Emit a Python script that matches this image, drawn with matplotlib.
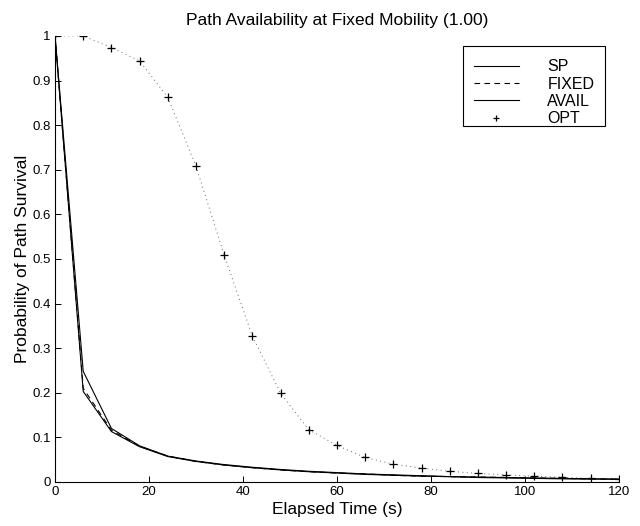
import matplotlib
matplotlib.use("Agg")
import matplotlib.pyplot as plt
from matplotlib.patches import Rectangle

plt.rcParams["font.family"] = ["Liberation Sans", "DejaVu Sans"]

# elapsed time samples (s)
t = [0, 6, 12, 18, 24, 30, 36, 42, 48, 54, 60, 66, 72, 78, 84, 90, 96, 102, 108, 114, 120]

sp = [1.0, 0.248, 0.120, 0.081, 0.058, 0.047, 0.039, 0.033, 0.028, 0.024, 0.021,
      0.018, 0.016, 0.014, 0.012, 0.011, 0.010, 0.009, 0.008, 0.007, 0.0065]
fixed = [1.0, 0.210, 0.116, 0.080, 0.058, 0.046, 0.038, 0.032, 0.027, 0.023, 0.020,
         0.018, 0.015, 0.013, 0.012, 0.011, 0.010, 0.009, 0.008, 0.007, 0.006]
avail = [1.0, 0.203, 0.113, 0.079, 0.057, 0.046, 0.038, 0.032, 0.027, 0.023, 0.020,
         0.017, 0.015, 0.013, 0.012, 0.010, 0.009, 0.008, 0.007, 0.0065, 0.006]
opt = [1.0, 1.0, 0.974, 0.944, 0.862, 0.708, 0.508, 0.327, 0.199, 0.117, 0.082,
       0.055, 0.040, 0.031, 0.024, 0.019, 0.016, 0.013, 0.0105, 0.008, 0.0067]

yticks = [0, 0.1, 0.2, 0.3, 0.4, 0.5, 0.6, 0.7, 0.8, 0.9, 1.0]
ytick_labels = ["0", "0.1", "0.2", "0.3", "0.4", "0.5", "0.6", "0.7", "0.8", "0.9", "1"]
xticks = [0, 20, 40, 60, 80, 100, 120]

fig = plt.figure(figsize=(6.4, 5.26), dpi=100)
ax = fig.add_axes([0.086, 0.0837, 0.881, 0.848])

ax.plot(t, sp, color="black", lw=0.8, label="SP")
ax.plot(t, fixed, color="black", lw=0.8, ls=(0, (5, 4)), label="FIXED")
ax.plot(t, avail, color="black", lw=0.8, label="AVAIL")
ax.plot(t, opt, color="black", lw=0.7, ls=(0, (1, 3.5)), alpha=0.6)
ax.plot(t, opt, color="black", lw=0, marker="+", ms=5.5, mew=0.9, label="OPT")

ax.set_xlim(0, 120)
ax.set_ylim(0, 1)
ax.set_xticks(xticks)
ax.set_yticks(yticks)
ax.set_yticklabels(ytick_labels)
ax.tick_params(direction="in", length=4, width=0.7, labelsize=9.5, pad=3)
ax.spines["top"].set_visible(False)
ax.spines["right"].set_visible(False)
for s in ("left", "bottom"):
    ax.spines[s].set_linewidth(0.8)

ax.set_title("Path Availability at Fixed Mobility (1.00)", fontsize=12.5, pad=8)
ax.set_xlabel("Elapsed Time (s)", fontsize=12.5, labelpad=3)
ax.set_ylabel("Probability of Path Survival", fontsize=12.5, labelpad=2)

# legend box drawn by hand (matlab style: more room above the rows than below)
ax.add_patch(Rectangle((0.723, 0.798), 0.252, 0.18, transform=ax.transAxes,
                       facecolor="white", edgecolor="black", lw=0.8, zorder=4))
leg = ax.legend(loc="upper left", bbox_to_anchor=(0.743, 0.948), borderaxespad=0,
                fontsize=11.5, handlelength=2.8, handletextpad=1.8, labelspacing=0.15,
                frameon=False, borderpad=0, markerscale=0.9)
leg.set_zorder(5)

fig.savefig("out.png", dpi=100)
